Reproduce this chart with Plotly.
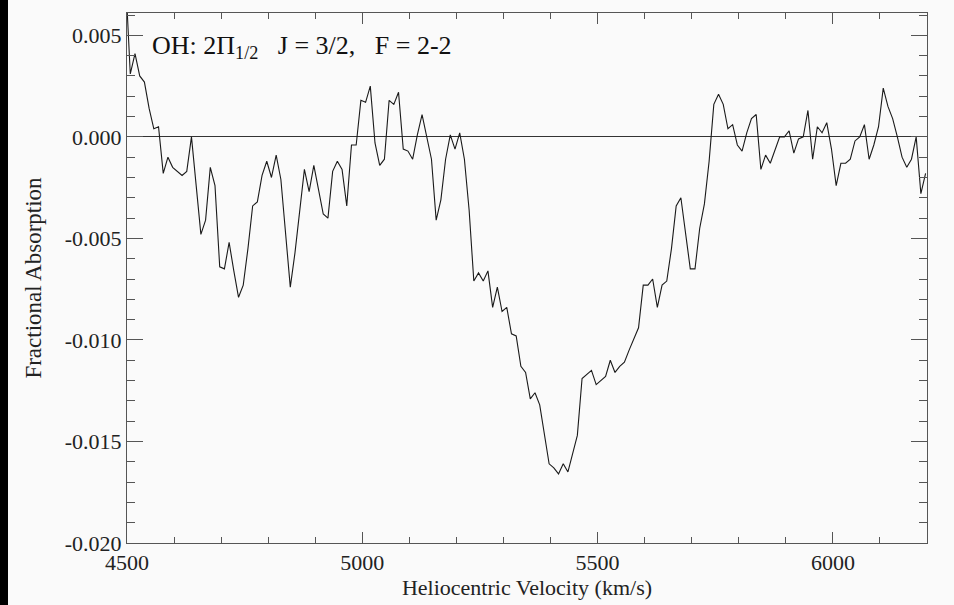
import plotly.graph_objects as go

velocity = [
    4497, 4507, 4517, 4527, 4537, 4547, 4557, 4567, 4577, 4587,
    4597, 4607, 4617, 4627, 4637, 4647, 4657, 4667, 4677, 4687,
    4697, 4707, 4717, 4727, 4737, 4747, 4757, 4767, 4777, 4787,
    4797, 4807, 4817, 4827, 4837, 4847, 4857, 4867, 4877, 4887,
    4897, 4907, 4917, 4927, 4937, 4947, 4957, 4967, 4977, 4987,
    4997, 5007, 5017, 5027, 5037, 5047, 5057, 5067, 5077, 5087,
    5097, 5107, 5117, 5127, 5137, 5147, 5157, 5167, 5177, 5187,
    5197, 5207, 5217, 5227, 5237, 5247, 5257, 5267, 5277, 5287,
    5297, 5307, 5317, 5327, 5337, 5347, 5357, 5367, 5377, 5387,
    5397, 5407, 5417, 5427, 5437, 5447, 5457, 5467, 5477, 5487,
    5497, 5507, 5517, 5527, 5537, 5547, 5557, 5567, 5577, 5587,
    5597, 5607, 5617, 5627, 5637, 5647, 5657, 5667, 5677, 5687,
    5697, 5707, 5717, 5727, 5737, 5747, 5757, 5767, 5777, 5787,
    5797, 5807, 5817, 5827, 5837, 5847, 5857, 5867, 5877, 5887,
    5897, 5907, 5917, 5927, 5937, 5947, 5957, 5967, 5977, 5987,
    5997, 6007, 6017, 6027, 6037, 6047, 6057, 6067, 6077, 6087,
    6097, 6107, 6117, 6127, 6137, 6147, 6157, 6167, 6177, 6187,
    6197,
]

absorption = [
    0.0078, 0.0031, 0.0041, 0.0030, 0.0027, 0.0014, 0.0004, 0.0005, -0.0018, -0.0010,
    -0.0015, -0.0017, -0.0019, -0.0017, 0.0000, -0.0024, -0.0048, -0.0041, -0.0015, -0.0024,
    -0.0064, -0.0065, -0.0052, -0.0066, -0.0079, -0.0073, -0.0055, -0.0034, -0.0032, -0.0019,
    -0.0012, -0.0020, -0.0009, -0.0021, -0.0048, -0.0074, -0.0057, -0.0036, -0.0016, -0.0027,
    -0.0014, -0.0026, -0.0038, -0.0040, -0.0017, -0.0012, -0.0016, -0.0034, -0.0004, -0.0004,
    0.0018, 0.0017, 0.0025, -0.0003, -0.0014, -0.0011, 0.0018, 0.0016, 0.0022, -0.0006,
    -0.0007, -0.0011, 0.0001, 0.0011, 0.0000, -0.0011, -0.0041, -0.0031, -0.0011, 0.0001,
    -0.0006, 0.0002, -0.0011, -0.0036, -0.0071, -0.0067, -0.0071, -0.0066, -0.0084, -0.0074,
    -0.0086, -0.0084, -0.0097, -0.0098, -0.0113, -0.0116, -0.0129, -0.0126, -0.0132, -0.0147,
    -0.0161, -0.0163, -0.0166, -0.0161, -0.0165, -0.0156, -0.0147, -0.0119, -0.0117, -0.0115,
    -0.0122, -0.0120, -0.0118, -0.0110, -0.0116, -0.0113, -0.0111, -0.0105, -0.0099, -0.0094,
    -0.0073, -0.0073, -0.0070, -0.0084, -0.0073, -0.0071, -0.0055, -0.0034, -0.0030, -0.0047,
    -0.0065, -0.0065, -0.0045, -0.0033, -0.0012, 0.0016, 0.0021, 0.0016, 0.0004, 0.0006,
    -0.0004, -0.0007, 0.0002, 0.0009, 0.0011, -0.0016, -0.0009, -0.0013, -0.0007, 0.0000,
    0.0000, 0.0003, -0.0008, -0.0001, 0.0000, 0.0013, -0.0011, 0.0005, 0.0002, 0.0007,
    -0.0006, -0.0024, -0.0013, -0.0013, -0.0011, -0.0002, 0.0000, 0.0006, -0.0011, -0.0004,
    0.0005, 0.0024, 0.0015, 0.0009, 0.0000, -0.0010, -0.0015, -0.0011, 0.0000, -0.0028,
    -0.0018,
]

x_tickvals = [4500, 5000, 5500, 6000]
x_ticktext = ["4500", "5000", "5500", "6000"]
y_tickvals = [-0.020, -0.015, -0.010, -0.005, 0.000, 0.005]
y_ticktext = ["-0.020", "-0.015", "-0.010", "-0.005", "0.000", "0.005"]

title_text = "OH: 2\u03a0<sub>1/2</sub>\u00a0\u00a0 J = 3/2,\u00a0\u00a0 F = 2-2"

FONT = "Liberation Serif, Times New Roman, serif"
AX = "#555555"
BG = "#fafafa"
TXT = "#222222"

fig = go.Figure()
fig.add_trace(go.Scatter(
    x=velocity, y=absorption, mode="lines",
    line=dict(color="#1a1a1a", width=1.1),
    showlegend=False, hoverinfo="skip",
))

W, H = 954, 605
ml, mr, mt, mb = 127, 27, 13, 62
pw, ph = W - ml - mr, H - mt - mb

fig.update_layout(
    width=W, height=H,
    margin=dict(l=ml, r=mr, t=mt, b=mb, pad=0),
    paper_bgcolor=BG, plot_bgcolor=BG,
    font=dict(family=FONT, size=22, color=TXT),
    xaxis=dict(
        range=[4500, 6200], tickmode="array", tickvals=x_tickvals, ticktext=x_ticktext,
        ticks="inside", ticklen=11, tickwidth=1, tickcolor=AX,
        showline=True, linecolor=AX, linewidth=1, mirror="ticks",
        showgrid=False, zeroline=False,
        minor=dict(dtick=100, ticks="inside", ticklen=6, tickcolor=AX, showgrid=False),
        tickfont=dict(family=FONT, size=22, color=TXT),
        title=dict(text="Heliocentric Velocity (km/s)", font=dict(family=FONT, size=22, color=TXT), standoff=2),
    ),
    yaxis=dict(
        range=[-0.020, 0.0061], tickmode="array", tickvals=y_tickvals, ticktext=y_ticktext,
        ticks="inside", ticklen=16, tickwidth=1, tickcolor=AX,
        showline=True, linecolor=AX, linewidth=1, mirror="ticks",
        showgrid=False, zeroline=True, zerolinecolor="#333333", zerolinewidth=1.2,
        minor=dict(dtick=0.001, ticks="inside", ticklen=8, tickcolor=AX, showgrid=False),
        tickfont=dict(family=FONT, size=22, color=TXT),
        title=dict(text="Fractional Absorption", font=dict(family=FONT, size=23, color=TXT), standoff=16),
    ),
    annotations=[dict(
        text=title_text, xref="paper", yref="paper",
        x=(150 - ml) / pw, y=1 - (47 - mt) / ph, xanchor="left", yanchor="middle",
        showarrow=False, font=dict(family=FONT, size=26, color="#111111"),
    )],
    shapes=[dict(
        type="rect", xref="paper", yref="paper",
        x0=(0 - ml) / pw, x1=(8 - ml) / pw, y0=-mb / ph, y1=1 + mt / ph,
        fillcolor="#000000", line=dict(width=0), layer="above",
    )],
)

fig.write_html("out.html")
